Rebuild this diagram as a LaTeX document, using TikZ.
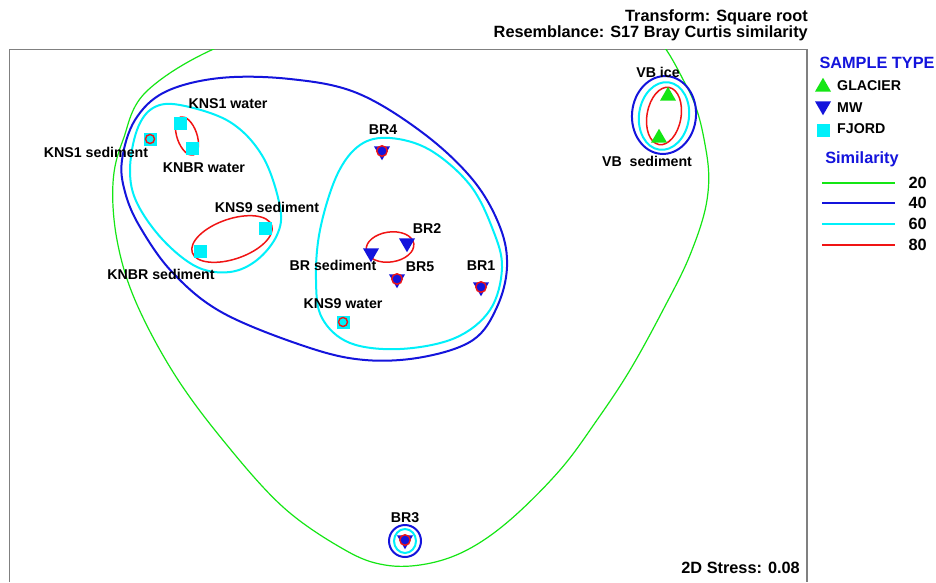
\documentclass[tikz,border=0pt]{standalone}
\usepackage{fontspec}
\setmainfont{Liberation Sans}
\usetikzlibrary{shapes.geometric}
\definecolor{cgreen}{RGB}{20,230,20}
\definecolor{cblue}{RGB}{20,20,220}
\definecolor{ccyan}{RGB}{0,240,250}
\definecolor{cred}{RGB}{240,20,20}
\definecolor{cframe}{RGB}{128,128,128}
\begin{document}
\begin{tikzpicture}[x=1pt,y=-1pt,
 lbl/.style={font=\fontsize{14.2}{16}\selectfont\bfseries, inner sep=0pt, text height=10.2pt, text depth=0pt},
 big/.style={font=\fontsize{16.3}{18}\selectfont\bfseries, inner sep=0pt, text height=11.7pt, text depth=0pt},
 sq/.style={rectangle, fill=ccyan, minimum size=13pt, inner sep=0pt},
 tridown/.style={regular polygon, regular polygon sides=3, shape border rotate=180, fill=cblue, minimum size=18.5pt, inner sep=0pt},
 triup/.style={regular polygon, regular polygon sides=3, fill=cgreen, minimum size=18.5pt, inner sep=0pt},
 ringb/.style={circle, draw=cred, fill=cblue, line width=1.4pt, minimum size=10.5pt, inner sep=0pt},
 ringc/.style={circle, draw=cred, fill=ccyan, line width=1.4pt, minimum size=9pt, inner sep=0pt},
 c20/.style={draw=cgreen, line width=1.2pt},
 c40/.style={draw=cblue, line width=2pt},
 c60/.style={draw=ccyan, line width=2pt},
 c80/.style={draw=cred, line width=1.5pt},
]
\useasboundingbox[fill=white] (0,0) rectangle (936,582);
% frame
\draw[cframe, line width=1.2pt] (9.5,582) -- (9.5,49.5) -- (807,49.5) -- (807,582);
% 20% contour
\begin{scope}
\clip (9.5,49.5) rectangle (807,582);
\draw[c20] plot[smooth cycle, tension=0.6] coordinates {
 (113,183) (123,140) (148,90) (230,42) (360,5) (520,0) (635,20) (687,87)
 (706,150) (707,200) (690,255) (663,310) (630,370) (597,420) (560,470)
 (510,520) (467,550) (426,564) (385,565) (345,550) (283,507) (222,439)
 (173,372) (135,300) (117,240)};
\end{scope}
% 40% contours
\draw[c40] plot[smooth cycle, tension=0.6] coordinates {
 (122,160) (135,120) (165,92) (220,78) (290,79) (357,93) (423,133) (473,180)
 (500,227) (507,267) (497,307) (473,340) (423,357) (365,360) (307,347)
 (223,313) (173,273) (140,227) (125,192)};
\draw[c40, rotate around={-5:(664,115)}] (664,115) ellipse [x radius=32, y radius=39];
\draw[c40] (405,541) ellipse [x radius=16, y radius=16];
% 60% contours
\draw[c60] plot[smooth cycle, tension=0.6] coordinates {
 (153,108) (180,105) (230,122) (263,157) (280,207) (277,235) (257,260)
 (230,272) (197,267) (163,240) (137,203) (130,170) (137,130)};
\draw[c60] plot[smooth cycle, tension=0.6] coordinates {
 (390,138) (430,150) (470,185) (493,230) (502,268) (490,310) (455,338)
 (400,349) (350,343) (322,318) (316,280) (320,230) (337,175) (360,145)};
\draw[c60, rotate around={-8:(664,116)}] (664,116) ellipse [x radius=25, y radius=34];
\draw[c60] (405,541) ellipse [x radius=11, y radius=12];
% 80% contours
\draw[c80, rotate around={19:(187,136)}] (187,136) ellipse [x radius=10, y radius=20];
\draw[c80, rotate around={19:(232,239)}] (232,239) ellipse [x radius=42, y radius=20];
\draw[c80, rotate around={8:(390,247)}] (390,247) ellipse [x radius=24, y radius=15];
\draw[c80, rotate around={-10:(664,116)}] (664,116) ellipse [x radius=17, y radius=29];
% FJORD samples
\node[sq] (kns1s) at (150,139) {};
\node[ringc] (kns1sr) at (kns1s.center) {};
\node[sq] (kns1w) at (180,123) {};
\node[sq] (knbrw) at (192,148) {};
\node[sq] (kns9s) at (265,228) {};
\node[sq] (knbrs) at (200,251) {};
\node[sq] (kns9w) at (343,322) {};
\node[ringc] (kns9wr) at (kns9w.center) {};
% MW samples
\node[tridown] (br4) at (382,151) {};
\node[ringb] (br4r) at (br4.center) {};
\node[tridown] (br2) at (407,243) {};
\node[tridown] (brs) at (371,253) {};
\node[tridown] (br5) at (397,279) {};
\node[ringb] (br5r) at (br5.center) {};
\node[tridown] (br1) at (481,287) {};
\node[ringb] (br1r) at (br1.center) {};
\node[tridown] (br3) at (405,540) {};
\node[ringb] (br3r) at (br3.center) {};
% GLACIER samples
\node[triup] (vbi) at (668,96) {};
\node[triup] (vbs) at (659,138) {};
% sample labels
\node[lbl] (lkns1w) at (228,103) {KNS1 water};
\node[lbl] (lkns1s) at (96,152) {KNS1 sediment};
\node[lbl] (lknbrw) at (204,167) {KNBR water};
\node[lbl] (lkns9s) at (267,207) {KNS9 sediment};
\node[lbl] (lknbrs) at (161,274) {KNBR sediment};
\node[lbl] (lkns9w) at (343,303) {KNS9 water};
\node[lbl] (lbr4) at (383,129) {BR4};
\node[lbl] (lbr2) at (427,228) {BR2};
\node[lbl] (lbrs) at (333,265) {BR sediment};
\node[lbl] (lbr5) at (420,266) {BR5};
\node[lbl] (lbr1) at (481,265) {BR1};
\node[lbl] (lbr3) at (405,517) {BR3};
\node[lbl] (lvbi) at (658,72) {VB ice};
\node[lbl] (lvbs) at (647,161) {VB\ \ sediment};
% titles
\node[big, anchor=east] (t1) at (808,15.5) {Transform: Square root};
\node[big, anchor=east] (t2) at (808,31.5) {Resemblance: S17 Bray Curtis similarity};
\node[big, anchor=east] (stress) at (800,568) {2D Stress: 0.08};
% legend
\node[big, text=cblue] (lst) at (877,63) {SAMPLE TYPE};
\node[triup] (lgl) at (823,87) {};
\node[lbl, anchor=west] (lglt) at (837,85) {GLACIER};
\node[tridown] (lmw) at (823,106) {};
\node[lbl, anchor=west] (lmwt) at (837,107) {MW};
\node[sq] (lfj) at (823,130) {};
\node[lbl, anchor=west] (lfjt) at (837,128) {FJORD};
\node[big, text=cblue] (lsim) at (862,158) {Similarity};
\coordinate (a20) at (822,183); \coordinate (b20) at (895,183);
\coordinate (a40) at (822,203); \coordinate (b40) at (895,203);
\coordinate (a60) at (822,224); \coordinate (b60) at (895,224);
\coordinate (a80) at (822,245); \coordinate (b80) at (895,245);
\draw[c20] (a20) -- (b20);
\draw[c40] (a40) -- (b40);
\draw[c60] (a60) -- (b60);
\draw[c80] (a80) -- (b80);
\node[big, anchor=east] (n20) at (927,183) {20};
\node[big, anchor=east] (n40) at (927,203) {40};
\node[big, anchor=east] (n60) at (927,224) {60};
\node[big, anchor=east] (n80) at (927,245) {80};
\end{tikzpicture}
\end{document}
